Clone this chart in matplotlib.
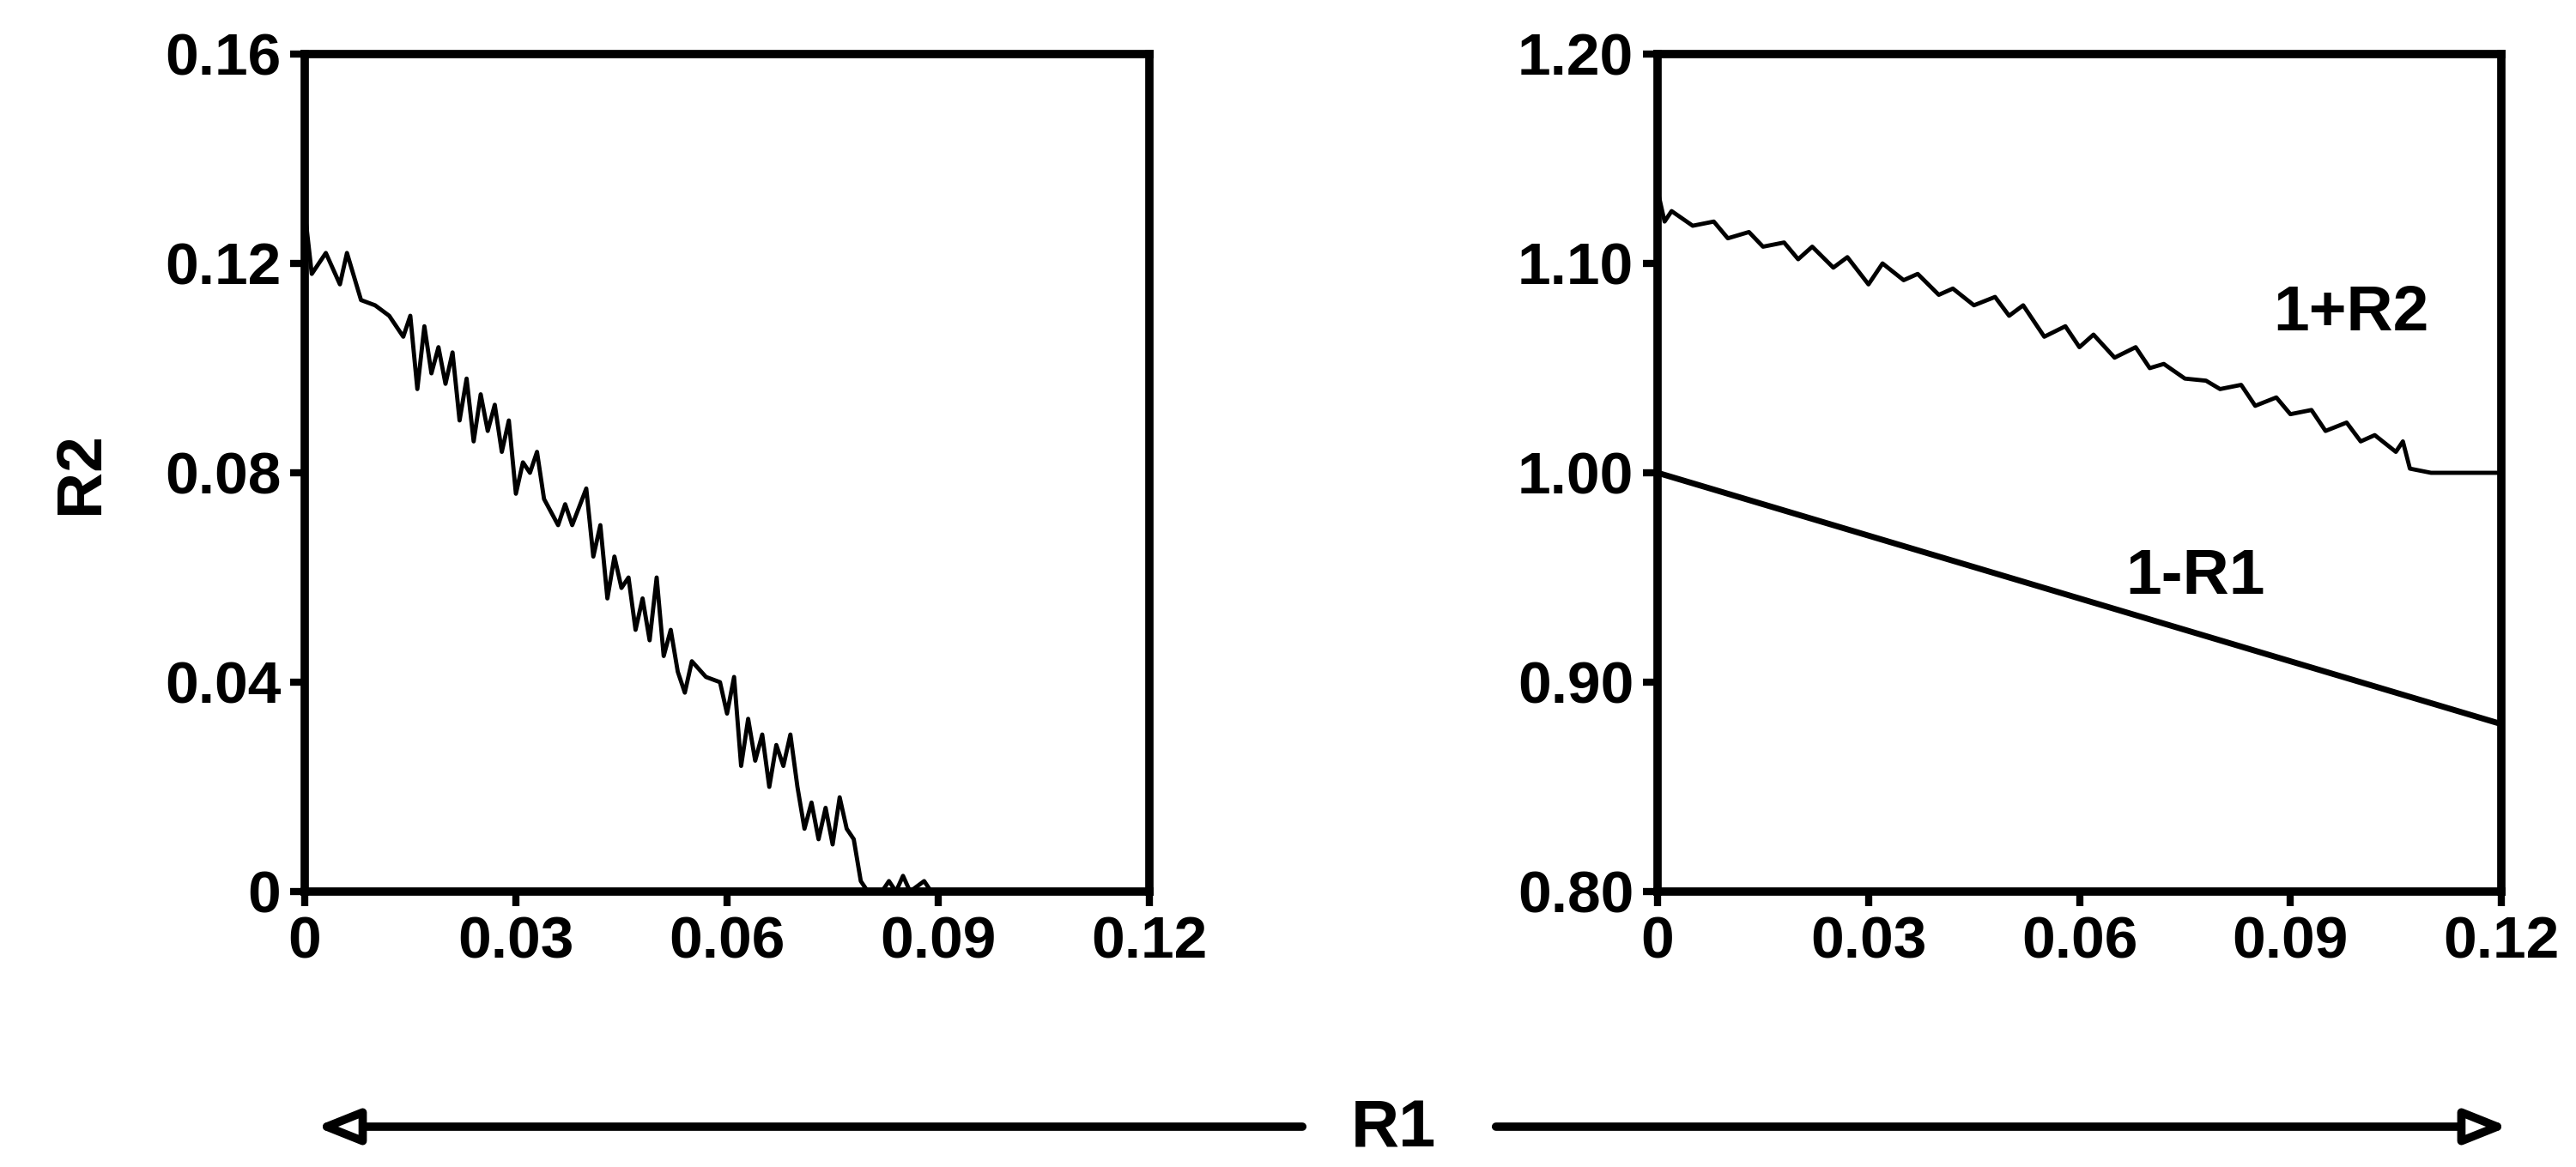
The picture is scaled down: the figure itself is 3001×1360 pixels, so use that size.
import matplotlib.pyplot as plt
from matplotlib.patches import FancyArrowPatch

plt.rcParams['font.family'] = ['Liberation Sans', 'DejaVu Sans']
plt.rcParams['font.weight'] = 'bold'

# left panel: R2 vs R1
r1_left = [0, 0.001, 0.003, 0.005, 0.006, 0.008, 0.010, 0.012, 0.014, 0.015, 0.016, 0.017,
           0.018, 0.019, 0.020, 0.021, 0.022, 0.023, 0.024, 0.025, 0.026, 0.027, 0.028, 0.029,
           0.030, 0.031, 0.032, 0.033, 0.034, 0.036, 0.037, 0.038, 0.040, 0.041, 0.042, 0.043,
           0.044, 0.045, 0.046, 0.047, 0.048, 0.049, 0.050, 0.051, 0.052, 0.053, 0.054, 0.055,
           0.057, 0.059, 0.060, 0.061, 0.062, 0.063, 0.064, 0.065, 0.066, 0.067, 0.068, 0.069,
           0.070, 0.071, 0.072, 0.073, 0.074, 0.075, 0.076, 0.077, 0.078, 0.079, 0.080, 0.082,
           0.083, 0.084, 0.085, 0.086, 0.088, 0.089]
r2_left = [0.130, 0.118, 0.122, 0.116, 0.122, 0.113, 0.112, 0.110, 0.106, 0.110, 0.096, 0.108,
           0.099, 0.104, 0.097, 0.103, 0.090, 0.098, 0.086, 0.095, 0.088, 0.093, 0.084, 0.090,
           0.076, 0.082, 0.080, 0.084, 0.075, 0.070, 0.074, 0.070, 0.077, 0.064, 0.070, 0.056,
           0.064, 0.058, 0.060, 0.050, 0.056, 0.048, 0.060, 0.045, 0.050, 0.042, 0.038, 0.044,
           0.041, 0.040, 0.034, 0.041, 0.024, 0.033, 0.025, 0.030, 0.020, 0.028, 0.024, 0.030,
           0.020, 0.012, 0.017, 0.010, 0.016, 0.009, 0.018, 0.012, 0.010, 0.002, 0.000, 0.000,
           0.002, 0.000, 0.003, 0.000, 0.002, 0.000]

# right panel: 1+R2 and 1-R1
r1_right = [0, 0.001, 0.002, 0.005, 0.008, 0.010, 0.013, 0.015, 0.018, 0.020, 0.022, 0.025,
            0.027, 0.030, 0.032, 0.035, 0.037, 0.040, 0.042, 0.045, 0.048, 0.050, 0.052, 0.055,
            0.058, 0.060, 0.062, 0.065, 0.068, 0.070, 0.072, 0.075, 0.078, 0.080, 0.083, 0.085,
            0.088, 0.090, 0.093, 0.095, 0.098, 0.100, 0.102, 0.105, 0.106, 0.107, 0.110, 0.120]
onep_r2 = [1.135, 1.120, 1.125, 1.118, 1.120, 1.112, 1.115, 1.108, 1.110, 1.102, 1.108, 1.098,
           1.103, 1.090, 1.100, 1.092, 1.095, 1.085, 1.088, 1.080, 1.084, 1.075, 1.080, 1.065,
           1.070, 1.060, 1.066, 1.055, 1.060, 1.050, 1.052, 1.045, 1.044, 1.040, 1.042, 1.032,
           1.036, 1.028, 1.030, 1.020, 1.024, 1.015, 1.018, 1.010, 1.015, 1.002, 1.000, 1.000]
r1_line = [0, 0.12]
onem_r1 = [1.0, 0.88]

fig = plt.figure(figsize=(30.01, 13.6), dpi=100)
ax1 = fig.add_axes([355 / 3001, 1 - 1039 / 1360, 984 / 3001, 976 / 1360])
ax2 = fig.add_axes([1931 / 3001, 1 - 1039 / 1360, 983 / 3001, 976 / 1360])

ax1.plot(r1_left, r2_left, color='black', lw=3.5)
ax1.set_xlim(0, 0.12)
ax1.set_ylim(0, 0.16)
ax1.set_xticks([0, 0.03, 0.06, 0.09, 0.12], ['0', '0.03', '0.06', '0.09', '0.12'])
ax1.set_yticks([0, 0.04, 0.08, 0.12, 0.16], ['0', '0.04', '0.08', '0.12', '0.16'])
ax1.set_ylabel('R2', fontsize=54, fontweight='bold', labelpad=45)

ax2.plot(r1_right, onep_r2, color='black', lw=3.5)
ax2.plot(r1_line, onem_r1, color='black', lw=5)
ax2.set_xlim(0, 0.12)
ax2.set_ylim(0.8, 1.2)
ax2.set_xticks([0, 0.03, 0.06, 0.09, 0.12], ['0', '0.03', '0.06', '0.09', '0.12'])
ax2.set_yticks([0.8, 0.9, 1.0, 1.1, 1.2], ['0.80', '0.90', '1.00', '1.10', '1.20'])
ax2.text(0.1097, 1.076, '1+R2', fontsize=54, fontweight='bold', ha='right', va='center')
ax2.text(0.0864, 0.950, '1-R1', fontsize=54, fontweight='bold', ha='right', va='center')

for ax in (ax1, ax2):
    for s in ax.spines.values():
        s.set_linewidth(7)
    ax.tick_params(labelsize=50, width=6, length=12, pad=8)

# R1 arrow under both panels
fig.text(1623 / 3001, 1 - 1316 / 1360, 'R1', fontsize=56, fontweight='bold', ha='center', va='center')
for start, end in [((1520 / 3001, 1 - 1313 / 1360), (365 / 3001, 1 - 1313 / 1360)),
                   ((1740 / 3001, 1 - 1313 / 1360), (2925 / 3001, 1 - 1313 / 1360))]:
    fig.patches.append(FancyArrowPatch(
        start, end, transform=fig.transFigure,
        arrowstyle='-|>,head_length=1.5,head_width=0.6', color='black', lw=7, fc='white',
        mutation_scale=20))

fig.savefig('out.png', dpi=100)
